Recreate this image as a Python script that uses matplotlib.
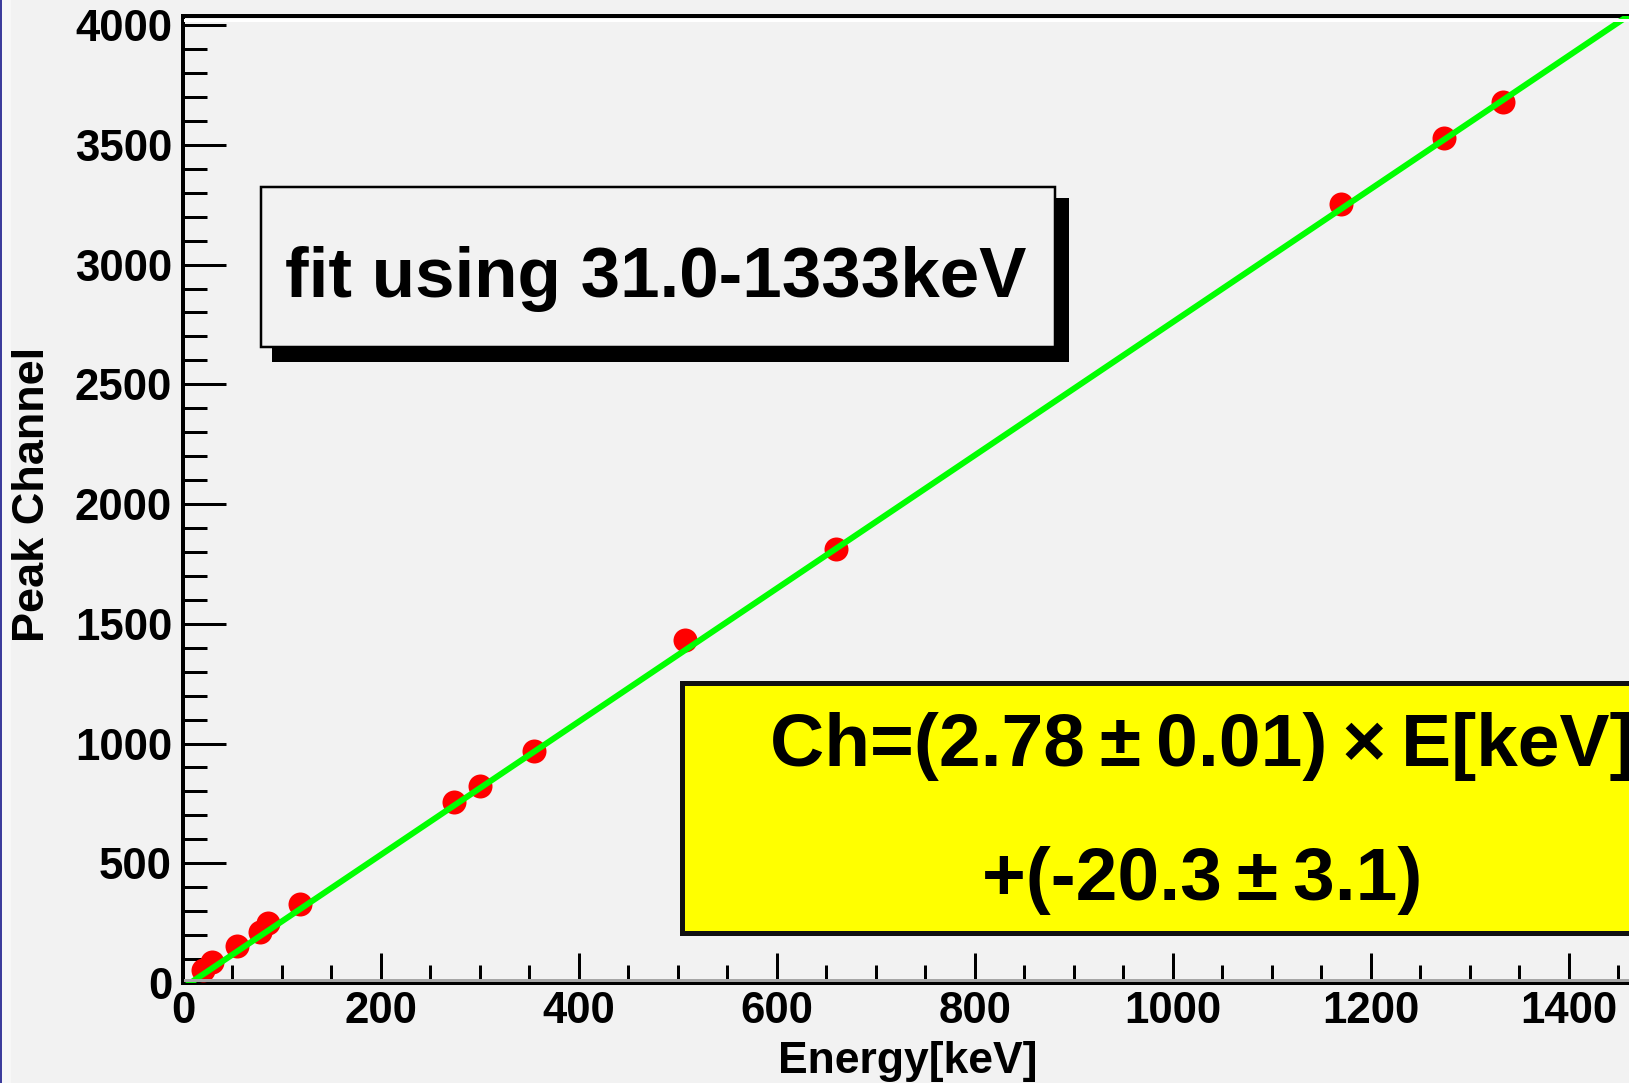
import matplotlib
matplotlib.use("Agg")
import matplotlib.pyplot as plt
from matplotlib.patches import Rectangle
from matplotlib.lines import Line2D
from matplotlib.ticker import MultipleLocator
import numpy as np

# Calibration peaks: gamma energy vs. fitted peak channel
energy_kev = [20, 29, 54.5, 78, 86, 118, 274, 300, 355, 507, 660, 1170, 1274, 1334]
peak_channel = [54, 88, 154, 213, 250, 330, 756, 823, 969, 1432, 1812, 3253, 3528, 3678]

# Linear fit result Ch = a * E + b
fit_slope = 2.78
fit_slope_err = 0.01
fit_intercept = -20.3
fit_intercept_err = 3.1
fit_range_label = "fit using 31.0-1333keV"

x_range = (0, 1465)
y_range = (0, 4038)
x_major_ticks = [0, 200, 400, 600, 800, 1000, 1200, 1400]
y_major_ticks = [0, 500, 1000, 1500, 2000, 2500, 3000, 3500, 4000]

W, H = 1629, 1083
DPI = 100
BG = "#f2f2f2"
PX = 72.0 / DPI  # points per pixel

plt.rcParams["font.family"] = ["Liberation Sans", "DejaVu Sans"]

fig = plt.figure(figsize=(W / DPI, H / DPI), dpi=DPI, facecolor=BG)


def fx(x):
    return x / W


def fy(y):
    return 1 - y / H


# axes frame in pixel units (top-left origin); the right edge runs past the canvas
ax_left, ax_right, ax_top, ax_bottom = 183, 1633, 16, 983
ax = fig.add_axes([fx(ax_left), fy(ax_bottom), fx(ax_right) - fx(ax_left),
                   fy(ax_top) - fy(ax_bottom)])
ax.set_facecolor(BG)
ax.set_xlim(*x_range)
ax.set_ylim(*y_range)

# data points and fitted line
ax.plot(energy_kev, peak_channel, "o", color="#ff0000", markersize=24 * PX,
        markeredgewidth=0, zorder=3)
e_line = np.array(x_range, dtype=float)
ax.plot(e_line, fit_slope * e_line + fit_intercept, color="#00ff00",
        linewidth=6 * PX, zorder=4, solid_capstyle="butt")

# axes styling
for side in ("left", "bottom", "top", "right"):
    ax.spines[side].set_linewidth(4 * PX)
    ax.spines[side].set_color("black")
ax.xaxis.set_major_locator(plt.FixedLocator(x_major_ticks))
ax.yaxis.set_major_locator(plt.FixedLocator(y_major_ticks))
ax.xaxis.set_minor_locator(MultipleLocator(50))
ax.yaxis.set_minor_locator(MultipleLocator(100))
ax.tick_params(axis="both", which="both", direction="in", width=3 * PX,
               top=False, right=False)
ax.tick_params(axis="y", which="major", length=43 * PX, pad=11 * PX,
               labelsize=31.5)
ax.tick_params(axis="y", which="minor", length=24 * PX)
ax.tick_params(axis="x", which="major", length=30 * PX, pad=8 * PX,
               labelsize=31.5)
ax.tick_params(axis="x", which="minor", length=18 * PX)
for lab in ax.get_xticklabels() + ax.get_yticklabels():
    lab.set_fontweight("bold")

# frame bevel: light edge below the top, dark edge above the bottom
fig.add_artist(Line2D([fx(185), 1], [fy(19.5), fy(19.5)], color="white",
                      linewidth=3 * PX, transform=fig.transFigure, zorder=5))
fig.add_artist(Line2D([fx(185), 1], [fy(979.5), fy(979.5)], color="#a6a6a6",
                      linewidth=3 * PX, transform=fig.transFigure, zorder=5))

# axis titles
fig.text(fx(908), fy(1073), "Energy[keV]", ha="center", va="baseline",
         fontsize=32, fontweight="bold")
fig.text(fx(33), fy(494), "Peak Channel", ha="center", va="center",
         rotation=90, fontsize=32.5, fontweight="bold")

# fit-range label with drop shadow
fig.add_artist(Rectangle((fx(272), fy(362)), fx(1069) - fx(272),
                         fy(198) - fy(362), transform=fig.transFigure,
                         facecolor="black", edgecolor="none", zorder=6))
fig.add_artist(Rectangle((fx(261), fy(347)), fx(1055) - fx(261),
                         fy(187) - fy(347), transform=fig.transFigure,
                         facecolor=BG, edgecolor="black",
                         linewidth=2.5 * PX, zorder=7))
fig.text(fx(656), fy(297), fit_range_label, ha="center", va="baseline",
         fontsize=51, fontweight="bold", zorder=8)

# fit result box
fig.add_artist(Rectangle((fx(681.5), fy(932.5)), fx(1720) - fx(681.5),
                         fy(682.5) - fy(932.5), transform=fig.transFigure,
                         facecolor="#ffff00", edgecolor="#111111",
                         linewidth=5 * PX, zorder=6))
line1 = f"Ch=({fit_slope:.2f}\u2009\u00b1\u2009{fit_slope_err:.2f})\u2009\u00d7\u2009E[keV]"
line2 = f"+({fit_intercept:.1f}\u2009\u00b1\u2009{fit_intercept_err:.1f})"
fig.text(fx(1202), fy(766), line1, ha="center", va="baseline", fontsize=54,
         fontweight="bold", zorder=8)
fig.text(fx(1202), fy(900), line2, ha="center", va="baseline", fontsize=54,
         fontweight="bold", zorder=8)

# canvas edge
fig.add_artist(Rectangle((fx(1), 0), fx(11) - fx(1), 1,
                         transform=fig.transFigure, facecolor="#f7f7f7",
                         edgecolor="none", zorder=0))
fig.add_artist(Line2D([fx(0.5), fx(0.5)], [0, 1], color="#000080",
                      linewidth=1.5 * PX, transform=fig.transFigure, zorder=9))

fig.savefig("out.png", dpi=DPI, facecolor=BG)
